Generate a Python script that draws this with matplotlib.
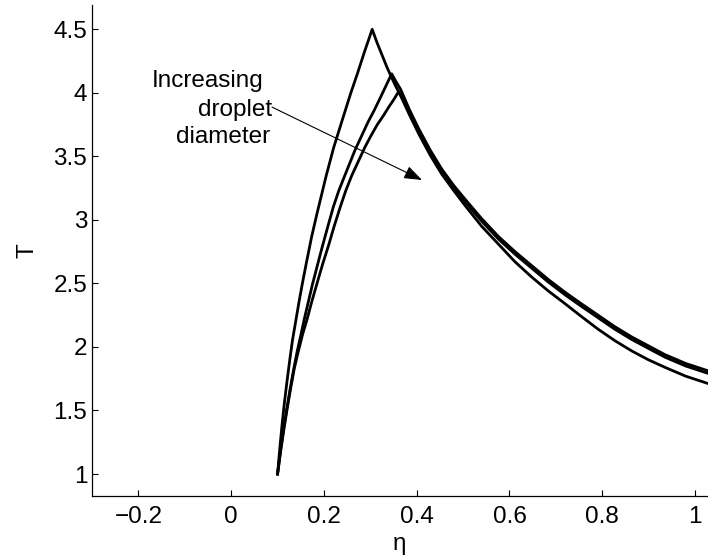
#!/usr/bin/env python3
"""Droplet temperature profiles T(eta) for three droplet diameters."""

import matplotlib

matplotlib.use("Agg")
import matplotlib.pyplot as plt

plt.rcParams["font.family"] = ["Liberation Sans", "DejaVu Sans"]
plt.rcParams["axes.unicode_minus"] = True

# curve 1: smallest droplet (highest peak)
eta_1 = [0.100, 0.105, 0.110, 0.115, 0.120, 0.126, 0.132, 0.139, 0.146, 0.154,
         0.162, 0.173, 0.185, 0.195, 0.205, 0.213, 0.221, 0.233, 0.245, 0.258,
         0.272, 0.288, 0.304,
         0.315, 0.325, 0.336, 0.346, 0.355, 0.365, 0.384, 0.404, 0.429, 0.454,
         0.480, 0.505, 0.540, 0.576, 0.612, 0.648, 0.684, 0.720, 0.755, 0.791,
         0.827, 0.863, 0.899, 0.935, 0.980, 1.030]
T_1 = [1.00, 1.21, 1.40, 1.57, 1.72, 1.89, 2.05, 2.20, 2.35, 2.51,
       2.66, 2.86, 3.05, 3.20, 3.35, 3.46, 3.57, 3.71, 3.85, 4.00,
       4.15, 4.33, 4.50,
       4.39, 4.30, 4.20, 4.12, 4.05, 3.98, 3.83, 3.68, 3.51, 3.36,
       3.23, 3.11, 2.95, 2.81, 2.67, 2.55, 2.44, 2.34, 2.24, 2.14,
       2.05, 1.97, 1.90, 1.84, 1.77, 1.71]

# curve 2: medium droplet
eta_2 = [0.100, 0.107, 0.114, 0.121, 0.128, 0.135, 0.142, 0.150, 0.157, 0.166,
         0.175, 0.185, 0.195, 0.207, 0.220, 0.232, 0.245, 0.256, 0.267, 0.281,
         0.295, 0.308, 0.320, 0.333, 0.346,
         0.355, 0.365, 0.384, 0.404, 0.429, 0.454, 0.480, 0.505, 0.540, 0.576,
         0.612, 0.648, 0.684, 0.720, 0.755, 0.791, 0.827, 0.863, 0.899, 0.935,
         0.980, 1.030]
T_2 = [1.00, 1.20, 1.38, 1.54, 1.69, 1.83, 1.96, 2.09, 2.21, 2.35,
       2.49, 2.63, 2.77, 2.93, 3.10, 3.23, 3.35, 3.45, 3.55, 3.66,
       3.77, 3.86, 3.95, 4.05, 4.15,
       4.09, 4.03, 3.87, 3.72, 3.55, 3.40, 3.27, 3.16, 3.01, 2.87,
       2.75, 2.64, 2.53, 2.43, 2.34, 2.25, 2.16, 2.08, 2.01, 1.94,
       1.87, 1.81]

# curve 3: largest droplet (lowest peak)
eta_3 = [0.100, 0.107, 0.114, 0.121, 0.128, 0.136, 0.145, 0.154, 0.163, 0.174,
         0.185, 0.197, 0.210, 0.222, 0.235, 0.247, 0.260, 0.274, 0.288, 0.301,
         0.315, 0.328, 0.340, 0.351, 0.361,
         0.370, 0.384, 0.404, 0.429, 0.454, 0.480, 0.505, 0.540, 0.576, 0.612,
         0.648, 0.684, 0.720, 0.755, 0.791, 0.827, 0.863, 0.899, 0.935, 0.980,
         1.030]
T_3 = [1.00, 1.19, 1.36, 1.52, 1.67, 1.83, 1.97, 2.10, 2.21, 2.36,
       2.50, 2.65, 2.80, 2.95, 3.10, 3.23, 3.35, 3.46, 3.57, 3.66,
       3.75, 3.82, 3.89, 3.95, 4.01,
       3.95, 3.84, 3.70, 3.53, 3.38, 3.25, 3.14, 2.99, 2.85, 2.73,
       2.62, 2.51, 2.41, 2.32, 2.23, 2.14, 2.06, 1.99, 1.92, 1.85,
       1.79]

x_ticks = [-0.2, 0, 0.2, 0.4, 0.6, 0.8, 1]
x_tick_labels = ["\u22120.2", "0", "0.2", "0.4", "0.6", "0.8", "1"]
y_ticks = [1, 1.5, 2, 2.5, 3, 3.5, 4, 4.5]
y_tick_labels = ["1", "1.5", "2", "2.5", "3", "3.5", "4", "4.5"]

note_lines = ["Increasing", "droplet", "diameter"]
note_x = [0.069, 0.088, 0.084]
note_y = [4.048, 3.820, 3.605]

FS = 17.5

fig = plt.figure(figsize=(7.08, 5.59), dpi=100)
ax = fig.add_axes([0.130, 0.1127, 0.870, 0.878])

for eta, T in [(eta_1, T_1), (eta_2, T_2), (eta_3, T_3)]:
    ax.plot(eta, T, color="black", linewidth=2.0, solid_joinstyle="round")

ax.set_xlim(-0.3, 1.028)
ax.set_ylim(0.827, 4.69)
ax.set_xticks(x_ticks)
ax.set_xticklabels(x_tick_labels)
ax.set_yticks(y_ticks)
ax.set_yticklabels(y_tick_labels)

for side in ("top", "right"):
    ax.spines[side].set_visible(False)
for side in ("left", "bottom"):
    ax.spines[side].set_linewidth(0.9)

ax.tick_params(axis="both", direction="in", length=4.5, width=0.8, labelsize=FS)
ax.tick_params(axis="x", pad=7)
ax.tick_params(axis="y", pad=3.5)

ax.set_xlabel("\u03b7", fontsize=FS, labelpad=4)
ax.set_ylabel("T", fontsize=FS, labelpad=11)

ax.annotate("", xy=(0.4115, 3.314), xytext=(0.088, 3.888),
            arrowprops=dict(arrowstyle="-|>,head_length=0.55,head_width=0.2",
                            color="black", lw=0.8, mutation_scale=20,
                            shrinkA=0, shrinkB=0))
for line, lx, ly in zip(note_lines, note_x, note_y):
    ax.text(lx, ly, line, fontsize=FS, ha="right", va="baseline")

fig.savefig("out.png", dpi=100, facecolor="white")
